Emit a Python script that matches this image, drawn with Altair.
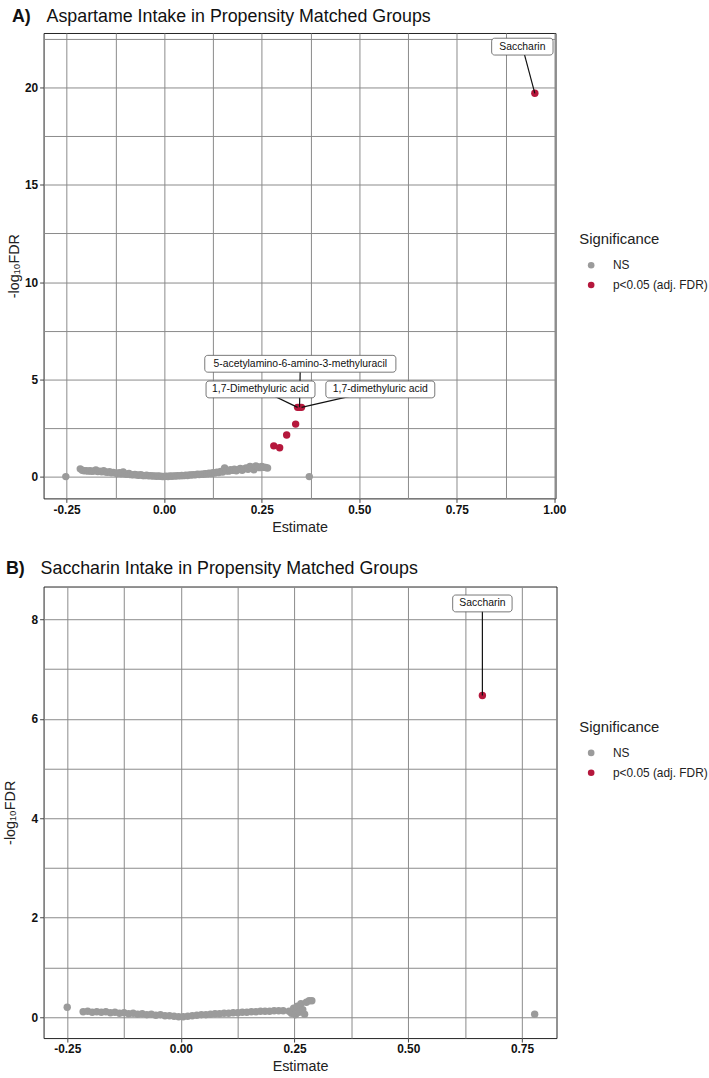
import altair as alt
import pandas as pd

FONT = "Liberation Sans"
GRAY = "#9b9b9b"
RED = "#b5173c"
SIG_LEVELS = ["NS", "p<0.05 (adj. FDR)"]
Y_TITLE = "-log\u2081\u2080FDR"

# ---------------- Panel A : Aspartame ----------------
a_tag = "A)"
a_title = "Aspartame Intake in Propensity Matched Groups"
a_ns_est = [
    -0.252, -0.215, -0.21, -0.205, -0.2, -0.195, -0.19, -0.185, -0.18, -0.175,
    -0.17, -0.165, -0.16, -0.155, -0.15, -0.145, -0.14, -0.135, -0.13, -0.125,
    -0.12, -0.115, -0.11, -0.105, -0.1, -0.095, -0.09, -0.085, -0.08, -0.075,
    -0.07, -0.065, -0.06, -0.055, -0.05, -0.045, -0.04, -0.035, -0.03, -0.025,
    -0.02, -0.015, -0.01, -0.005, 0.0, 0.005, 0.01, 0.015, 0.02, 0.025,
    0.03, 0.035, 0.04, 0.045, 0.05, 0.055, 0.06, 0.065, 0.07, 0.075,
    0.08, 0.085, 0.09, 0.095, 0.1, 0.105, 0.11, 0.115, 0.12, 0.125,
    0.13, 0.135, 0.14, 0.145, 0.15, 0.155, 0.16, 0.165, 0.17, 0.175,
    0.18, 0.185, 0.19, 0.195, 0.2, 0.205, 0.21, 0.215, 0.22, 0.225,
    0.23, 0.235, 0.24, 0.245, 0.25, 0.255, 0.26, 0.265, 0.372,
]
a_ns_y = [
    0.0, 0.40, 0.33, 0.30, 0.31, 0.28, 0.30, 0.27, 0.29, 0.34,
    0.26, 0.28, 0.25, 0.30, 0.24, 0.22, 0.25, 0.20, 0.22, 0.18,
    0.16, 0.20, 0.15, 0.24, 0.13, 0.12, 0.16, 0.10, 0.09, 0.11,
    0.08, 0.07, 0.10, 0.06, 0.05, 0.07, 0.04, 0.05, 0.03, 0.04,
    0.02, 0.03, 0.02, 0.01, 0.01, 0.02, 0.01, 0.03, 0.02, 0.04,
    0.03, 0.05, 0.04, 0.06, 0.05, 0.07, 0.06, 0.09, 0.08, 0.10,
    0.09, 0.12, 0.11, 0.13, 0.12, 0.15, 0.14, 0.17, 0.16, 0.20,
    0.18, 0.23, 0.21, 0.27, 0.24, 0.45, 0.30, 0.28, 0.35, 0.32,
    0.38, 0.30, 0.36, 0.42, 0.33, 0.40, 0.45, 0.38, 0.52, 0.48,
    0.35, 0.55, 0.50, 0.46, 0.52, 0.48, 0.47, 0.44, 0.0,
]
a_sig_est = [0.281, 0.296, 0.314, 0.337, 0.342, 0.347, 0.352, 0.95]
a_sig_y = [1.58, 1.48, 2.14, 2.70, 3.56, 3.56, 3.56, 19.7]
a_lab_text = ["Saccharin", "5-acetylamino-6-amino-3-methyluracil",
              "1,7-Dimethyluric acid", "1,7-dimethyluric acid"]
a_lab_x = [0.918, 0.349, 0.247, 0.554]
a_lab_y = [22.1, 5.80, 4.48, 4.48]
a_lab_px = [0.95, 0.347, 0.342, 0.352]
a_lab_py = [19.7, 3.56, 3.56, 3.56]
a_x_grid = [-0.25, -0.125, 0.0, 0.125, 0.25, 0.375, 0.5, 0.625, 0.75, 0.875, 1.0]
a_y_grid = [0, 2.5, 5, 7.5, 10, 12.5, 15, 17.5, 20, 22.5]

# ---------------- Panel B : Saccharin ----------------
b_tag = "B)"
b_title = "Saccharin Intake in Propensity Matched Groups"
b_ns_est = [
    -0.25, -0.215, -0.205, -0.195, -0.185, -0.175, -0.165, -0.155, -0.145, -0.135,
    -0.125, -0.115, -0.105, -0.095, -0.085, -0.075, -0.065, -0.055, -0.045, -0.035,
    -0.025, -0.015, -0.005, 0.005, 0.015, 0.025, 0.035, 0.045, 0.055, 0.065,
    0.075, 0.085, 0.095, 0.105, 0.115, 0.125, 0.135, 0.145, 0.155, 0.165,
    0.175, 0.185, 0.195, 0.205, 0.215, 0.225, 0.238, 0.243, 0.248, 0.252,
    0.256, 0.26, 0.264, 0.268, 0.272, 0.276, 0.282, 0.288, 0.778,
]
b_ns_y = [
    0.20, 0.11, 0.12, 0.10, 0.11, 0.10, 0.11, 0.09, 0.10, 0.08,
    0.09, 0.07, 0.08, 0.06, 0.07, 0.05, 0.06, 0.04, 0.05, 0.03,
    0.03, 0.02, 0.01, 0.01, 0.02, 0.03, 0.04, 0.05, 0.05, 0.06,
    0.07, 0.07, 0.08, 0.08, 0.09, 0.09, 0.10, 0.10, 0.11, 0.11,
    0.12, 0.12, 0.12, 0.13, 0.13, 0.13, 0.12, 0.08, 0.18, 0.05,
    0.22, 0.10, 0.27, 0.15, 0.06, 0.30, 0.33, 0.33, 0.06,
]
b_sig_est = [0.663]
b_sig_y = [6.47]
b_lab_text = ["Saccharin"]
b_lab_x = [0.663]
b_lab_y = [8.32]
b_lab_px = [0.663]
b_lab_py = [6.47]
b_x_grid = [-0.25, -0.125, 0.0, 0.125, 0.25, 0.375, 0.5, 0.625, 0.75]
b_y_grid = [0, 1, 2, 3, 4, 5, 6, 7, 8]

# label box widths (px) - styling
a_box_w = [62, 193, 110, 110]
b_box_w = [60]
BOX_H = 17


def fmt_expr(step, decimals):
    test = f"abs(datum.value/{step} - round(datum.value/{step})) < 1e-6"
    if decimals:
        lab = (f"(datum.value < 0 ? '-' + format(-datum.value, '.{decimals}f') "
               f": format(datum.value, '.{decimals}f'))")
    else:
        lab = "format(datum.value, 'd')"
    return test, f"{test} ? {lab} : ''"


def panel(tag, title, ns_x, ns_y, sig_x, sig_y, lab_text, lab_x, lab_y, lab_px, lab_py,
          box_w, x_dom, y_dom, x_grid, y_grid, x_step, y_step, width, height,
          tag_x, title_x, title_y, ytitle_x, legend_y):
    xt, xl = fmt_expr(x_step, 2)
    yt, yl = fmt_expr(y_step, 0)
    xaxis = alt.Axis(values=x_grid, labelExpr=xl, grid=True, title="Estimate",
                     tickOpacity={"condition": {"test": xt, "value": 1}, "value": 0},
                     titlePadding=5)
    yaxis = alt.Axis(values=y_grid, labelExpr=yl, grid=True, title=Y_TITLE,
                     tickOpacity={"condition": {"test": yt, "value": 1}, "value": 0},
                     titleX=ytitle_x, titleY=height / 2, titleBaseline="middle")
    xs = alt.Scale(domain=x_dom, nice=False, zero=False)
    ys = alt.Scale(domain=y_dom, nice=False, zero=False)

    def X(f):
        return alt.X(f"{f}:Q", scale=xs, axis=xaxis, title="Estimate")

    def Y(f):
        return alt.Y(f"{f}:Q", scale=ys, axis=yaxis, title=Y_TITLE)

    pts = pd.DataFrame({
        "est": ns_x + sig_x,
        "nlf": ns_y + sig_y,
        "sig": [SIG_LEVELS[0]] * len(ns_x) + [SIG_LEVELS[1]] * len(sig_x),
    })
    labs = pd.DataFrame({"est": lab_x, "nlf": lab_y, "px": lab_px, "py": lab_py,
                         "txt": lab_text})

    legend = alt.Legend(orient="none", legendX=541, legendY=legend_y, title="Significance",
                        titleFont=FONT, titleFontSize=15, titleFontWeight="normal",
                        titleColor="#222", titlePadding=12, labelFont=FONT,
                        labelFontSize=12, labelColor="#222", symbolType="circle",
                        symbolSize=45, symbolOffset=6, labelOffset=16, rowPadding=8,
                        padding=0, symbolStrokeWidth=0)

    points = alt.Chart(pts).mark_circle(size=56, opacity=1).encode(
        x=X("est"), y=Y("nlf"),
        color=alt.Color("sig:N", scale=alt.Scale(domain=SIG_LEVELS, range=[GRAY, RED]),
                        legend=legend),
    )
    rules = alt.Chart(labs).mark_rule(color="#111", strokeWidth=1.2).encode(
        x=X("est"), y=Y("nlf"), x2="px", y2="py")
    layers = [points, rules]
    for i, w in enumerate(box_w):
        layers.append(
            alt.Chart(labs.iloc[[i]]).mark_rect(
                xOffset=-w / 2, x2Offset=w / 2, yOffset=-BOX_H / 2, y2Offset=BOX_H / 2,
                fill="white", stroke="#555", strokeWidth=0.8, cornerRadius=3,
            ).encode(x=X("est"), x2="est", y=Y("nlf"), y2="nlf")
        )
    layers.append(
        alt.Chart(labs).mark_text(font=FONT, fontSize=10.5, color="#111",
                                  baseline="middle", align="center").encode(
            x=X("est"), y=Y("nlf"), text="txt:N")
    )
    heads = pd.DataFrame({"t": [tag, title]})
    layers.append(
        alt.Chart(heads.iloc[[0]]).mark_text(
            font=FONT, fontSize=18, fontWeight="bold", color="#111",
            align="left", baseline="middle").encode(
            x=alt.value(tag_x), y=alt.value(title_y), text="t:N")
    )
    layers.append(
        alt.Chart(heads.iloc[[1]]).mark_text(
            font=FONT, fontSize=18, color="#111",
            align="left", baseline="middle").encode(
            x=alt.value(title_x), y=alt.value(title_y), text="t:N")
    )
    return alt.layer(*layers).properties(width=width, height=height)


chart_a = panel(a_tag, a_title, a_ns_est, a_ns_y, a_sig_est, a_sig_y, a_lab_text,
                a_lab_x, a_lab_y, a_lab_px, a_lab_py, a_box_w,
                [-0.309, 1.003], [-1.12, 22.8], a_x_grid, a_y_grid, 0.25, 5,
                517, 470, -32, 3, -16.5, -29, 201.5)
chart_b = panel(b_tag, b_title, b_ns_est, b_ns_y, b_sig_est, b_sig_y, b_lab_text,
                b_lab_x, b_lab_y, b_lab_px, b_lab_py, b_box_w,
                [-0.302, 0.826], [-0.42, 8.66], b_x_grid, b_y_grid, 0.25, 2,
                518, 456, -38, -3, -18, -33, 135)

chart = alt.vconcat(chart_a, chart_b, spacing=25).resolve_scale(
    x="independent", y="independent", color="independent"
).properties(
    padding={"top": 2, "left": 2, "right": 0, "bottom": 0},
    background="white",
).configure_view(
    stroke="#222", strokeWidth=1
).configure_axis(
    domain=False, gridColor="#8a8a8a", gridWidth=1, gridOpacity=1,
    tickColor="#444", tickSize=4, tickWidth=1, labelPadding=2,
    labelFont=FONT, labelFontSize=12, labelFontWeight="bold", labelColor="#111",
    titleFont=FONT, titleFontSize=14.5, titleFontWeight="normal", titleColor="#222",
    labelOverlap=False,
)

chart.save("out.html", embed_options={"renderer": "svg", "actions": False})
